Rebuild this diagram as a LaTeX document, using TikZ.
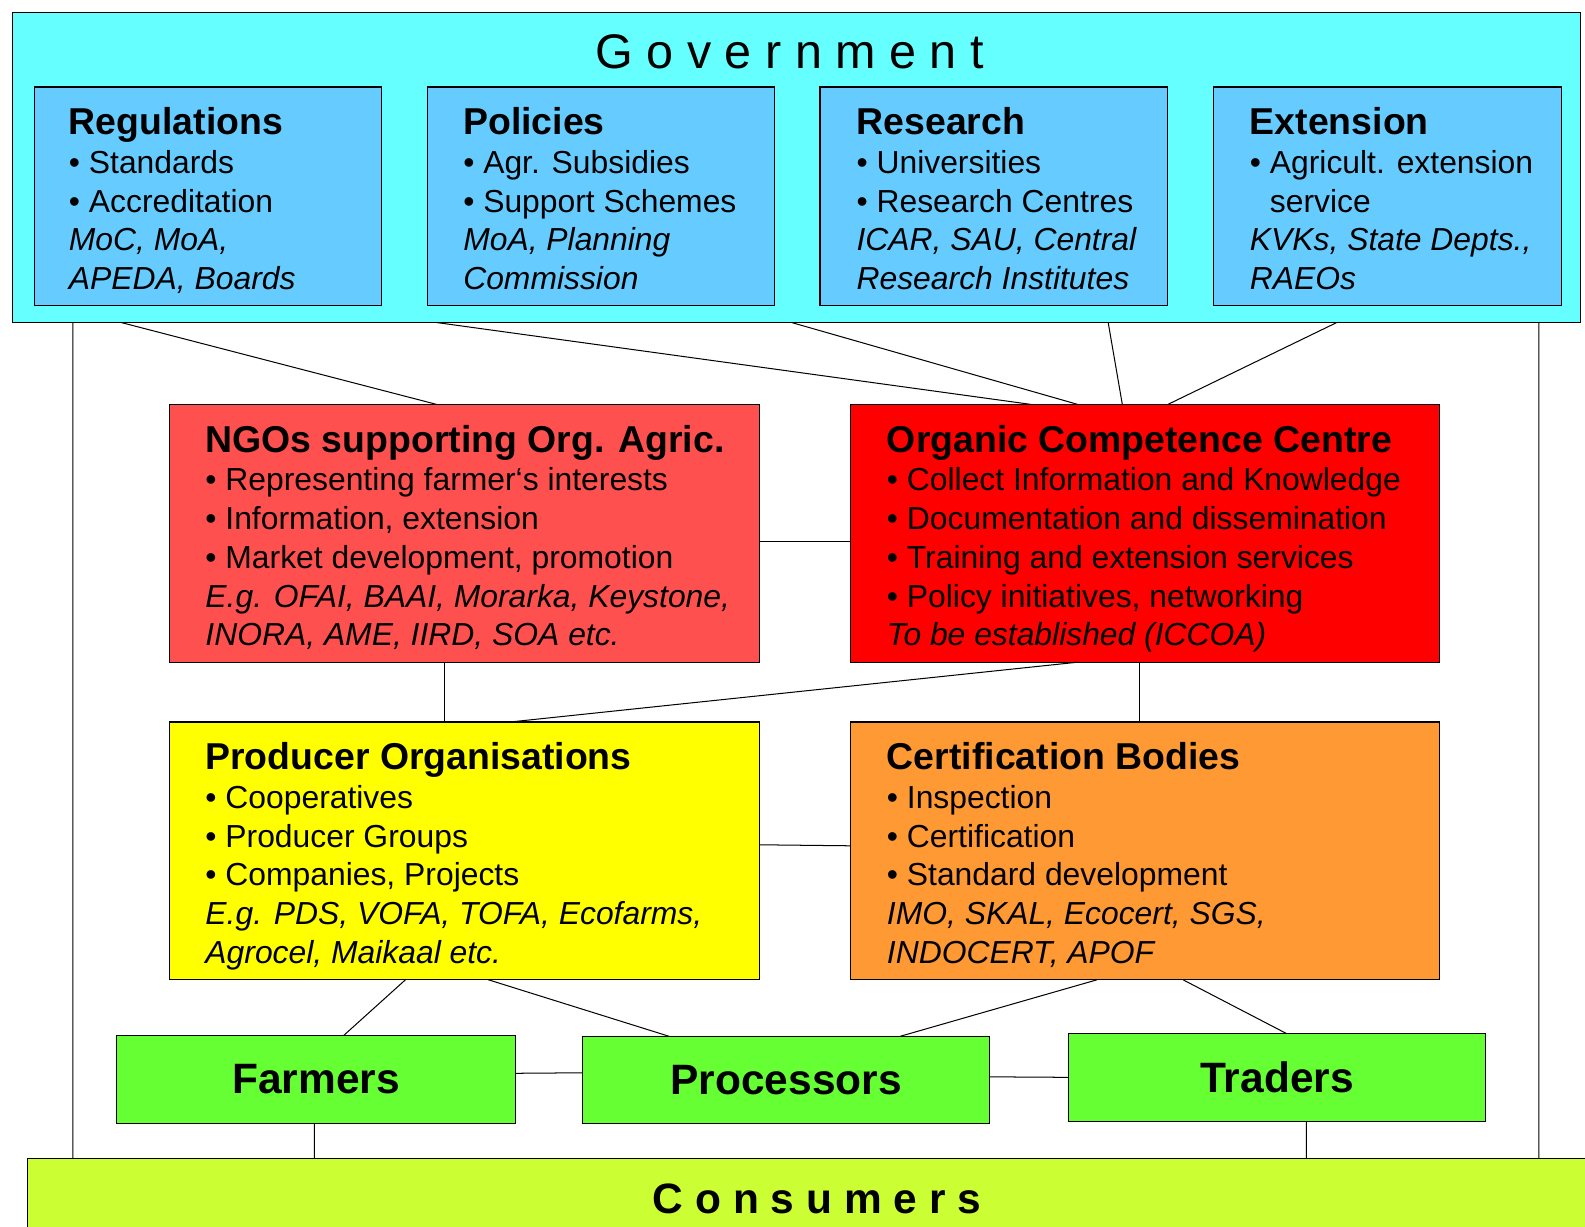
\documentclass[tikz,border=0pt]{standalone}
\usepackage{fontspec}
\setmainfont{Liberation Sans}
\usepackage{xcolor}
\usepackage{tikz}

\definecolor{govcyan}{HTML}{66FFFF}
\definecolor{govblue}{HTML}{66CCFF}
\definecolor{ngored}{HTML}{FF5050}
\definecolor{occred}{HTML}{FF0000}
\definecolor{prodyellow}{HTML}{FFFF00}
\definecolor{certorange}{HTML}{FF9933}
\definecolor{chaingreen}{HTML}{66FF33}
\definecolor{conslime}{HTML}{CCFF33}

\newcommand{\boxhead}[1]{\rule{0pt}{28bp}{\fontsize{37bp}{38.3bp}\selectfont\bfseries #1}}

\begin{document}
\begin{tikzpicture}[x=1bp,y=-1bp,
	box/.style={draw=black,line width=1.2bp,anchor=north west,inner sep=0pt,outer sep=0pt},
	txt/.style={anchor=north west,inner sep=0pt,align=left,font=\fontsize{31.5bp}{38.3bp}\selectfont},
	chain/.style={box,fill=chaingreen,font=\fontsize{42bp}{44bp}\selectfont\bfseries},
	link/.style={draw=black,line width=1bp}]
	\useasboundingbox (0,0) rectangle (1567.6,1213.5);
	
	%Shape: Government
	\node [box,fill=govcyan,minimum width=1551bp,minimum height=307bp] (gov) at (12,12) {};
	\node [anchor=base,inner sep=0pt,font=\fontsize{48bp}{50bp}\selectfont] (govtitle) at (781,68) {G o v e r n m e n t};
	
	%Shape: Government sub boxes
	\node [box,fill=govblue,minimum width=343bp,minimum height=216bp] (reg) at (34,86) {};
	\node [box,fill=govblue,minimum width=343bp,minimum height=216bp] (pol) at (423,86) {};
	\node [box,fill=govblue,minimum width=344bp,minimum height=216bp] (res) at (811,86) {};
	\node [box,fill=govblue,minimum width=344bp,minimum height=216bp] (ext) at (1200,86) {};
	
	% Text Node
	\node [txt] (regtxt) at (68,105) {\boxhead{Regulations}\\• Standards\\• Accreditation\\\textit{MoC, MoA,}\\\textit{APEDA, Boards}};
	% Text Node
	\node [txt] (poltxt) at (458,105) {\boxhead{Policies}\\• Agr. Subsidies\\• Support Schemes\\\textit{MoA, Planning}\\\textit{Commission}};
	% Text Node
	\node [txt] (restxt) at (847,105) {\boxhead{Research}\\• Universities\\• Research Centres\\\textit{ICAR, SAU, Central}\\\textit{Research Institutes}};
	% Text Node
	\node [txt] (exttxt) at (1236,105) {\boxhead{Extension}\\• Agricult. extension\\\hphantom{•\ }service\\\textit{KVKs, State Depts.,}\\\textit{RAEOs}};
	
	%Shape: middle boxes
	\node [box,fill=ngored,minimum width=583bp,minimum height=255bp] (ngo) at (168,400) {};
	\node [box,fill=occred,minimum width=583bp,minimum height=255bp] (occ) at (841,400) {};
	\node [box,fill=prodyellow,minimum width=583bp,minimum height=255bp] (prod) at (168,714) {};
	\node [box,fill=certorange,minimum width=583bp,minimum height=255bp] (cert) at (841,714) {};
	
	% Text Node
	\node [txt] (ngotxt) at (203,419) {\boxhead{NGOs supporting Org. Agric.}\\• Representing farmer‘s interests\\• Information, extension\\• Market development, promotion\\\textit{E.g. OFAI, BAAI, Morarka, Keystone,}\\\textit{INORA, AME, IIRD, SOA etc.}};
	% Text Node
	\node [txt] (occtxt) at (877,419) {\boxhead{Organic Competence Centre}\\• Collect Information and Knowledge\\• Documentation and dissemination\\• Training and extension services\\• Policy initiatives, networking\\\textit{To be established (ICCOA)}};
	% Text Node
	\node [txt] (prodtxt) at (203,733) {\boxhead{Producer Organisations}\\• Cooperatives\\• Producer Groups\\• Companies, Projects\\\textit{E.g. PDS, VOFA, TOFA, Ecofarms,}\\\textit{Agrocel, Maikaal etc.}};
	% Text Node
	\node [txt] (certtxt) at (877,733) {\boxhead{Certification Bodies}\\• Inspection\\• Certification\\• Standard development\\\textit{IMO, SKAL, Ecocert, SGS,}\\\textit{INDOCERT, APOF}};
	
	%Shape: chain boxes
	\node [chain,minimum width=395bp,minimum height=87bp] (farm) at (115,1024) {Farmers};
	\node [chain,minimum width=403bp,minimum height=86bp] (proc) at (576,1025) {Processors};
	\node [chain,minimum width=412bp,minimum height=87bp] (trad) at (1057,1022) {Traders};
	
	%Shape: Consumers
	\node [box,fill=conslime,minimum width=1600bp,minimum height=100bp] (cons) at (27,1146) {};
	\node [anchor=base,inner sep=0pt,font=\fontsize{42bp}{44bp}\selectfont\bfseries] (constitle) at (808,1200) {C o n s u m e r s};
	
	%Straight Lines
	\draw [link] ([xshift=108bp]gov.south west) -- ([xshift=264bp]ngo.north west);
	\draw [link] ([xshift=420bp]gov.south west) -- ([xshift=179bp]occ.north west);
	\draw [link] ([xshift=771bp]gov.south west) -- ([xshift=225bp]occ.north west);
	\draw [link] ([xshift=1084bp]gov.south west) -- ([xshift=269bp]occ.north west);
	\draw [link] ([xshift=1310bp]gov.south west) -- ([xshift=314bp]occ.north west);
	\draw [link] ([xshift=60bp]gov.south west) -- ([xshift=45bp]cons.north west);
	\draw [link] ([xshift=1510bp]gov.south west) -- ([xshift=1495bp]cons.north west);
	%Straight Lines
	\draw [link] ([yshift=-8bp]ngo.east) -- ([yshift=-8bp]occ.west);
	\draw [link] ([xshift=272bp]ngo.south west) -- ([xshift=272bp]prod.north west);
	\draw [link] ([xshift=224bp]occ.south west) -- ([xshift=337bp]prod.north west);
	\draw [link] ([xshift=286bp]occ.south west) -- ([xshift=286bp]cert.north west);
	\draw [link] ([yshift=6bp]prod.east) -- ([yshift=5bp]cert.west);
	%Straight Lines
	\draw [link] ([xshift=233bp]prod.south west) -- ([xshift=225bp]farm.north west);
	\draw [link] ([xshift=315bp]prod.south west) -- ([xshift=86bp]proc.north west);
	\draw [link] ([xshift=244bp]cert.south west) -- ([xshift=314bp]proc.north west);
	\draw [link] ([xshift=329bp]cert.south west) -- ([xshift=215bp]trad.north west);
	\draw [link] ([yshift=6bp]farm.east) -- ([yshift=7bp]proc.west);
	\draw [link] ([yshift=3bp]proc.east) -- ([yshift=0bp]trad.west);
	\draw [link] ([xshift=196bp]farm.south west) -- ([xshift=284bp]cons.north west);
	\draw [link] ([xshift=235bp]trad.south west) -- ([xshift=1265bp]cons.north west);
\end{tikzpicture}
\end{document}
